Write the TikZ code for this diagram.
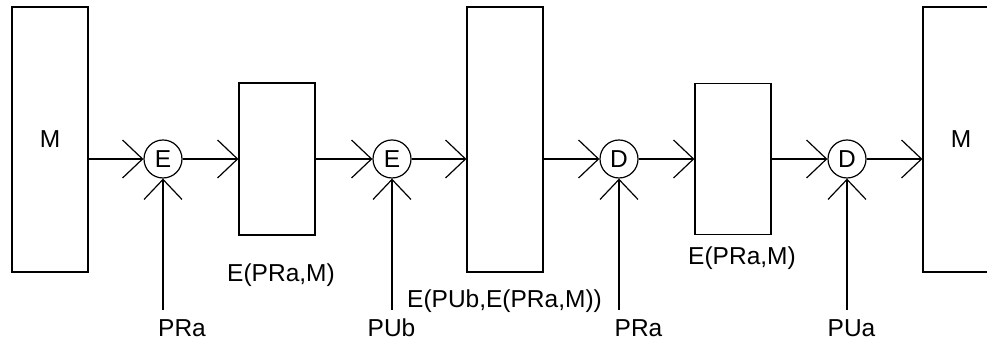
\documentclass[tikz,border=0pt]{standalone}
\usepackage{fontspec}
\setmainfont{Liberation Sans}
\usetikzlibrary{arrows.meta}
\tikzset{
  block/.style={rectangle,draw,line width=1.2pt,minimum width=76pt,inner sep=0pt},
  op/.style={circle,draw,line width=1.2pt,minimum size=38pt,inner sep=0pt},
  tag/.style={anchor=base,inner sep=0pt},
  link/.style={-{Straight Barb[length=20pt,width=38pt]},line width=1.2pt}
}
\begin{document}
\begin{tikzpicture}[x=1pt,y=1pt,font=\fontsize{24.5}{29}\selectfont]
\useasboundingbox (0,0) rectangle (987,344);
% blocks
\node[block,minimum height=265pt] (m1) at (50,204.5) {M};
\node[block,minimum height=152pt] (b2) at (277,185) {};
\node[block,minimum height=265pt] (b3) at (505,204.5) {};
\node[block,minimum height=151pt] (b4) at (733,185) {};
\node[block,minimum height=265pt] (m2) at (961,204.5) {M};
% operators
\node[op] (e1) at (163,185) {E};
\node[op] (e2) at (392,185) {E};
\node[op] (d1) at (619,185) {D};
\node[op] (d2) at (847,185) {D};
% key inputs
\coordinate (k1) at (163,34);
\coordinate (k2) at (392,34);
\coordinate (k3) at (619,34);
\coordinate (k4) at (847,34);
\node[tag] (t1) at (182,7) {PRa};
\node[tag] (t2) at (391.5,7) {PUb};
\node[tag] (t3) at (638.5,7) {PRa};
\node[tag] (t4) at (851.5,7) {PUa};
% block captions
\node[tag] (c2) at (281,62) {E(PRa,M)};
\node[tag] (c3) at (504.5,36) {E(PUb,E(PRa,M))};
\node[tag] (c4) at (742,79) {E(PRa,M)};
% connectors
\draw[link] (e1 -| m1.east) -- (e1);
\draw[link] (e1) -- (b2);
\draw[link] (b2) -- (e2);
\draw[link] (e2) -- (e2 -| b3.west);
\draw[link] (d1 -| b3.east) -- (d1);
\draw[link] (d1) -- (b4);
\draw[link] (b4) -- (d2);
\draw[link] (d2) -- (d2 -| m2.west);
\draw[link] (k1) -- (e1);
\draw[link] (k2) -- (e2);
\draw[link] (k3) -- (d1);
\draw[link] (k4) -- (d2);
\end{tikzpicture}
\end{document}
